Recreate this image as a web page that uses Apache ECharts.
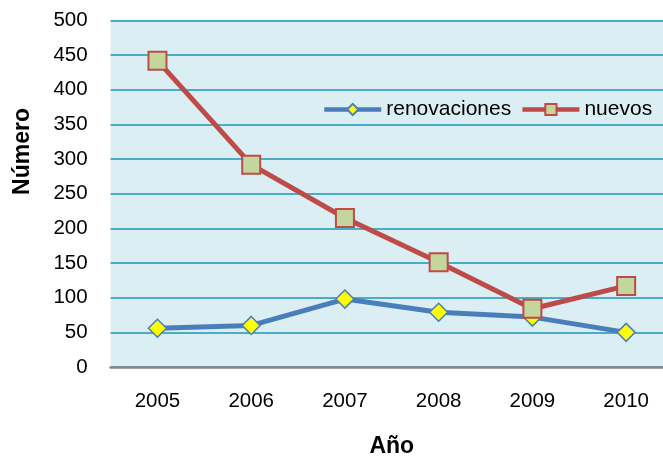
<!DOCTYPE html>
<html>
<head>
<meta charset="utf-8">
<script src="https://cdn.jsdelivr.net/npm/echarts@6/dist/echarts.min.js"></script>
<style>html,body{margin:0;padding:0;background:#fff}#c{width:663px;height:459px}</style>
</head>
<body>
<div id="c"></div>
<script>
var years = ['2005','2006','2007','2008','2009','2010'];
var renovaciones = [56, 60, 98, 79, 72, 50];
var nuevos = [442, 292, 215, 151, 84, 117];
var yTicks = {min: 0, max: 500, interval: 50};

var FONT = '"Liberation Sans", Arial, sans-serif';
var chart = echarts.init(document.getElementById('c'), null, {renderer: 'canvas'});
chart.setOption({
  animation: false,
  backgroundColor: '#ffffff',
  grid: {left: 110.6, width: 562.4, top: 20.5, height: 346.5, show: true, backgroundColor: '#DBEEF4', borderWidth: 0,
         containLabel: false, outerBoundsMode: 'none'},
  legend: {
    left: 322, top: 99, padding: 0,
    itemWidth: 57, itemHeight: 14, itemGap: 9,
    lineStyle: {width: 4.5},
    textStyle: {fontFamily: FONT, fontSize: 21, color: '#000'},
    data: ['renovaciones', 'nuevos']
  },
  xAxis: {
    type: 'category', data: years, boundaryGap: true,
    axisTick: {show: false},
    axisLine: {lineStyle: {color: '#868686', width: 2.5}},
    axisLabel: {fontFamily: FONT, fontSize: 20.5, color: '#000', margin: 24},
    name: 'Año', nameLocation: 'middle', nameGap: 68,
    nameTextStyle: {fontFamily: FONT, fontSize: 23, fontWeight: 'bold', color: '#000'},
    splitLine: {show: false}
  },
  yAxis: {
    type: 'value', min: yTicks.min, max: yTicks.max, interval: yTicks.interval,
    axisLine: {show: false}, axisTick: {show: false},
    axisLabel: {fontFamily: FONT, fontSize: 20.5, color: '#000', margin: 23},
    splitLine: {lineStyle: {color: '#4BACC6', width: 1.8}}
  },
  graphic: [{
    type: 'text', x: 23, y: 151.5, rotation: Math.PI / 2,
    style: {text: 'Número', font: 'bold 23px ' + FONT, fill: '#000', align: 'center', verticalAlign: 'middle'}
  }],
  series: [
    {
      name: 'renovaciones', type: 'line', data: renovaciones,
      lineStyle: {color: '#4A7EBB', width: 5},
      symbol: 'diamond', symbolSize: 18,
      itemStyle: {color: '#FFFF00', borderColor: '#4A7EBB', borderWidth: 1.5},
      color: '#4A7EBB'
    },
    {
      name: 'nuevos', type: 'line', data: nuevos,
      lineStyle: {color: '#BE4B48', width: 5},
      symbol: 'rect', symbolSize: 18,
      itemStyle: {color: '#C3D69B', borderColor: '#BE4B48', borderWidth: 2},
      color: '#BE4B48'
    }
  ]
});
</script>
</body>
</html>
